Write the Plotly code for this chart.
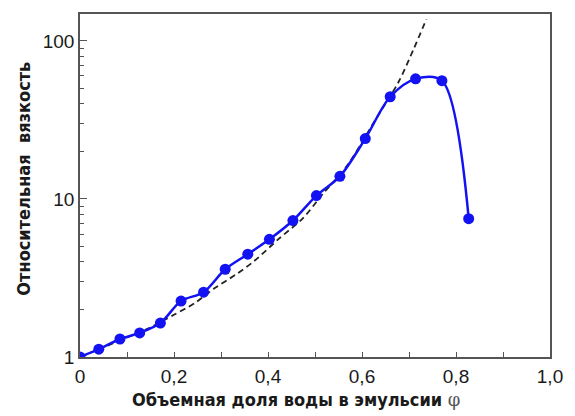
import plotly.graph_objects as go

# Measured data (blue markers)
phi = [0, 0.04, 0.085, 0.127, 0.171, 0.215, 0.263, 0.309, 0.357, 0.403,
       0.453, 0.503, 0.553, 0.607, 0.66, 0.714, 0.77, 0.827]
eta = [1.0, 1.12, 1.30, 1.42, 1.64, 2.26, 2.57, 3.59, 4.47, 5.55,
       7.3, 10.5, 13.9, 24.1, 44.3, 57.5, 56.0, 7.5]

# Theoretical curve (dashed)
phi_d = [0, 0.05, 0.1, 0.146, 0.2, 0.244, 0.286, 0.33, 0.37, 0.424,
         0.474, 0.516, 0.57, 0.626, 0.678, 0.71, 0.737]
eta_d = [1.0, 1.15, 1.33, 1.52, 1.85, 2.19, 2.72, 3.3, 4.03, 5.63,
         7.53, 10.7, 16.5, 30.8, 55.1, 89.0, 137.0]

x_ticks = [0, 0.2, 0.4, 0.6, 0.8, 1.0]
x_labels = ["0", "0,2", "0,4", "0,6", "0,8", "1,0"]
y_ticks = [1, 10, 100]
y_labels = ["1", "10", "100"]
y_minor = [2, 3, 4, 5, 6, 7, 8, 9, 20, 30, 40, 50, 60, 70, 80, 90]

x_title = "Объемная доля воды в эмульсии <span style='font-family:DejaVu Serif, serif;font-weight:normal;color:#555'>φ</span>"
y_title = "Относительная\u00a0\u00a0вязкость"

fig = go.Figure()
fig.add_trace(go.Scatter(
    x=phi_d, y=eta_d, mode="lines",
    line=dict(color="#222222", width=1.8, dash="6px,4px", shape="spline", smoothing=0.8),
    hoverinfo="skip", showlegend=False))
fig.add_trace(go.Scatter(
    x=phi, y=eta, mode="lines+markers",
    line=dict(color="#1212f2", width=2.5, shape="spline", smoothing=0.9),
    marker=dict(color="#1212f2", size=11),
    showlegend=False))

title_font = dict(family="Liberation Sans Narrow, DejaVu Sans Condensed, Arial Narrow, sans-serif",
                  size=18, color="#1a1a1a")

fig.update_layout(
    width=575, height=416,
    margin=dict(l=80, r=17, t=12, b=59),
    paper_bgcolor="white", plot_bgcolor="white",
    font=dict(family="Liberation Sans, Arial, sans-serif", size=19, color="#1a1a1a"),
    xaxis=dict(range=[0, 1.0], tickvals=x_ticks, ticktext=x_labels,
               ticks="inside", ticklen=5, tickwidth=1.2, tickcolor="#555",
               minor=dict(dtick=0.1, ticks="inside", ticklen=5, tickwidth=1.2, tickcolor="#555"),
               showline=True, linecolor="#555", linewidth=1.5, mirror=True,
               showgrid=False, zeroline=False, ticklabelstandoff=1),
    yaxis=dict(type="log", range=[0, 2.17], tickvals=y_ticks, ticktext=y_labels,
               ticks="inside", ticklen=7, tickwidth=1.2, tickcolor="#555",
               minor=dict(tickvals=y_minor, ticks="inside", ticklen=4, tickwidth=1.2,
                          tickcolor="#555", showgrid=False),
               showline=True, linecolor="#555", linewidth=1.5, mirror=True,
               showgrid=False, zeroline=False),
    annotations=[
        dict(text="<b>" + x_title + "</b>", xref="paper", yref="paper",
             x=0.46, y=-0.125, xanchor="center", yanchor="middle",
             showarrow=False, font=title_font),
        dict(text="<b>" + y_title + "</b>", xref="paper", yref="paper",
             x=-0.119, y=0.52, xanchor="center", yanchor="middle", textangle=-90,
             showarrow=False, font=title_font),
    ],
)

fig.write_html("out.html", config={"displayModeBar": False},
               post_script="document.body.style.margin='0';")
